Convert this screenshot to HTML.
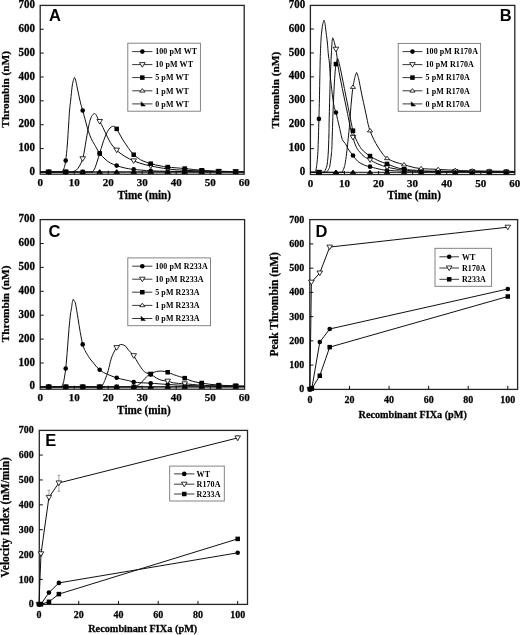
<!DOCTYPE html><html><head><meta charset="utf-8"><style>html,body{margin:0;padding:0;background:#fff;overflow:hidden}svg{display:block}</style></head><body>
<svg width="520" height="635" viewBox="0 0 520 635">
<defs><filter id="bl" filterUnits="userSpaceOnUse" x="0" y="0" width="520" height="635"><feGaussianBlur stdDeviation="0.3"/></filter></defs>
<rect width="520" height="635" fill="#fff"/>
<g filter="url(#bl)">
<rect x="40.2" y="5.4" width="204" height="168.8" fill="none" stroke="#262626" stroke-width="1.3"/>
<text x="0" y="0" font-size="11" text-anchor="end" style="font-family:'Liberation Serif',serif;font-weight:bold" transform="translate(34.9,175) scale(1,1.06)" stroke="#000" stroke-width="0.25" >0</text>
<line x1="40.2" y1="148.58" x2="43.7" y2="148.58" stroke="#111" stroke-width="1.0"/>
<text x="0" y="0" font-size="11" text-anchor="end" style="font-family:'Liberation Serif',serif;font-weight:bold" transform="translate(34.9,151.13) scale(1,1.06)" stroke="#000" stroke-width="0.25" >100</text>
<line x1="40.2" y1="124.71" x2="43.7" y2="124.71" stroke="#111" stroke-width="1.0"/>
<text x="0" y="0" font-size="11" text-anchor="end" style="font-family:'Liberation Serif',serif;font-weight:bold" transform="translate(34.9,127.26) scale(1,1.06)" stroke="#000" stroke-width="0.25" >200</text>
<line x1="40.2" y1="100.84" x2="43.7" y2="100.84" stroke="#111" stroke-width="1.0"/>
<text x="0" y="0" font-size="11" text-anchor="end" style="font-family:'Liberation Serif',serif;font-weight:bold" transform="translate(34.9,103.39) scale(1,1.06)" stroke="#000" stroke-width="0.25" >300</text>
<line x1="40.2" y1="76.97" x2="43.7" y2="76.97" stroke="#111" stroke-width="1.0"/>
<text x="0" y="0" font-size="11" text-anchor="end" style="font-family:'Liberation Serif',serif;font-weight:bold" transform="translate(34.9,79.52) scale(1,1.06)" stroke="#000" stroke-width="0.25" >400</text>
<line x1="40.2" y1="53.1" x2="43.7" y2="53.1" stroke="#111" stroke-width="1.0"/>
<text x="0" y="0" font-size="11" text-anchor="end" style="font-family:'Liberation Serif',serif;font-weight:bold" transform="translate(34.9,55.65) scale(1,1.06)" stroke="#000" stroke-width="0.25" >500</text>
<line x1="40.2" y1="29.23" x2="43.7" y2="29.23" stroke="#111" stroke-width="1.0"/>
<text x="0" y="0" font-size="11" text-anchor="end" style="font-family:'Liberation Serif',serif;font-weight:bold" transform="translate(34.9,31.78) scale(1,1.06)" stroke="#000" stroke-width="0.25" >600</text>
<text x="0" y="0" font-size="11" text-anchor="end" style="font-family:'Liberation Serif',serif;font-weight:bold" transform="translate(34.9,7.91) scale(1,1.06)" stroke="#000" stroke-width="0.25" >700</text>
<text x="0" y="0" font-size="11" text-anchor="middle" style="font-family:'Liberation Serif',serif;font-weight:bold" transform="translate(40.2,186.45) scale(1,1.0)" stroke="#000" stroke-width="0.25" >0</text>
<line x1="74.2" y1="174.2" x2="74.2" y2="170.7" stroke="#111" stroke-width="1.0"/>
<text x="0" y="0" font-size="11" text-anchor="middle" style="font-family:'Liberation Serif',serif;font-weight:bold" transform="translate(74.2,186.45) scale(1,1.0)" stroke="#000" stroke-width="0.25" >10</text>
<line x1="108.2" y1="174.2" x2="108.2" y2="170.7" stroke="#111" stroke-width="1.0"/>
<text x="0" y="0" font-size="11" text-anchor="middle" style="font-family:'Liberation Serif',serif;font-weight:bold" transform="translate(108.2,186.45) scale(1,1.0)" stroke="#000" stroke-width="0.25" >20</text>
<line x1="142.2" y1="174.2" x2="142.2" y2="170.7" stroke="#111" stroke-width="1.0"/>
<text x="0" y="0" font-size="11" text-anchor="middle" style="font-family:'Liberation Serif',serif;font-weight:bold" transform="translate(142.2,186.45) scale(1,1.0)" stroke="#000" stroke-width="0.25" >30</text>
<line x1="176.2" y1="174.2" x2="176.2" y2="170.7" stroke="#111" stroke-width="1.0"/>
<text x="0" y="0" font-size="11" text-anchor="middle" style="font-family:'Liberation Serif',serif;font-weight:bold" transform="translate(176.2,186.45) scale(1,1.0)" stroke="#000" stroke-width="0.25" >40</text>
<line x1="210.2" y1="174.2" x2="210.2" y2="170.7" stroke="#111" stroke-width="1.0"/>
<text x="0" y="0" font-size="11" text-anchor="middle" style="font-family:'Liberation Serif',serif;font-weight:bold" transform="translate(210.2,186.45) scale(1,1.0)" stroke="#000" stroke-width="0.25" >50</text>
<text x="0" y="0" font-size="11" text-anchor="middle" style="font-family:'Liberation Serif',serif;font-weight:bold" transform="translate(244.2,186.45) scale(1,1.0)" stroke="#000" stroke-width="0.25" >60</text>
<rect x="310.4" y="5.4" width="204.4" height="169.1" fill="none" stroke="#262626" stroke-width="1.3"/>
<text x="0" y="0" font-size="11" text-anchor="end" style="font-family:'Liberation Serif',serif;font-weight:bold" transform="translate(305.2,175.1) scale(1,1.06)" stroke="#000" stroke-width="0.25" >0</text>
<line x1="310.4" y1="148.63" x2="313.9" y2="148.63" stroke="#111" stroke-width="1.0"/>
<text x="0" y="0" font-size="11" text-anchor="end" style="font-family:'Liberation Serif',serif;font-weight:bold" transform="translate(305.2,151.18) scale(1,1.06)" stroke="#000" stroke-width="0.25" >100</text>
<line x1="310.4" y1="124.71" x2="313.9" y2="124.71" stroke="#111" stroke-width="1.0"/>
<text x="0" y="0" font-size="11" text-anchor="end" style="font-family:'Liberation Serif',serif;font-weight:bold" transform="translate(305.2,127.26) scale(1,1.06)" stroke="#000" stroke-width="0.25" >200</text>
<line x1="310.4" y1="100.79" x2="313.9" y2="100.79" stroke="#111" stroke-width="1.0"/>
<text x="0" y="0" font-size="11" text-anchor="end" style="font-family:'Liberation Serif',serif;font-weight:bold" transform="translate(305.2,103.34) scale(1,1.06)" stroke="#000" stroke-width="0.25" >300</text>
<line x1="310.4" y1="76.87" x2="313.9" y2="76.87" stroke="#111" stroke-width="1.0"/>
<text x="0" y="0" font-size="11" text-anchor="end" style="font-family:'Liberation Serif',serif;font-weight:bold" transform="translate(305.2,79.42) scale(1,1.06)" stroke="#000" stroke-width="0.25" >400</text>
<line x1="310.4" y1="52.95" x2="313.9" y2="52.95" stroke="#111" stroke-width="1.0"/>
<text x="0" y="0" font-size="11" text-anchor="end" style="font-family:'Liberation Serif',serif;font-weight:bold" transform="translate(305.2,55.5) scale(1,1.06)" stroke="#000" stroke-width="0.25" >500</text>
<line x1="310.4" y1="29.03" x2="313.9" y2="29.03" stroke="#111" stroke-width="1.0"/>
<text x="0" y="0" font-size="11" text-anchor="end" style="font-family:'Liberation Serif',serif;font-weight:bold" transform="translate(305.2,31.58) scale(1,1.06)" stroke="#000" stroke-width="0.25" >600</text>
<text x="0" y="0" font-size="11" text-anchor="end" style="font-family:'Liberation Serif',serif;font-weight:bold" transform="translate(305.2,7.66) scale(1,1.06)" stroke="#000" stroke-width="0.25" >700</text>
<text x="0" y="0" font-size="11" text-anchor="middle" style="font-family:'Liberation Serif',serif;font-weight:bold" transform="translate(310.4,186.75) scale(1,1.0)" stroke="#000" stroke-width="0.25" >0</text>
<line x1="344.47" y1="174.5" x2="344.47" y2="171" stroke="#111" stroke-width="1.0"/>
<text x="0" y="0" font-size="11" text-anchor="middle" style="font-family:'Liberation Serif',serif;font-weight:bold" transform="translate(344.47,186.75) scale(1,1.0)" stroke="#000" stroke-width="0.25" >10</text>
<line x1="378.54" y1="174.5" x2="378.54" y2="171" stroke="#111" stroke-width="1.0"/>
<text x="0" y="0" font-size="11" text-anchor="middle" style="font-family:'Liberation Serif',serif;font-weight:bold" transform="translate(378.54,186.75) scale(1,1.0)" stroke="#000" stroke-width="0.25" >20</text>
<line x1="412.61" y1="174.5" x2="412.61" y2="171" stroke="#111" stroke-width="1.0"/>
<text x="0" y="0" font-size="11" text-anchor="middle" style="font-family:'Liberation Serif',serif;font-weight:bold" transform="translate(412.61,186.75) scale(1,1.0)" stroke="#000" stroke-width="0.25" >30</text>
<line x1="446.68" y1="174.5" x2="446.68" y2="171" stroke="#111" stroke-width="1.0"/>
<text x="0" y="0" font-size="11" text-anchor="middle" style="font-family:'Liberation Serif',serif;font-weight:bold" transform="translate(446.68,186.75) scale(1,1.0)" stroke="#000" stroke-width="0.25" >40</text>
<line x1="480.75" y1="174.5" x2="480.75" y2="171" stroke="#111" stroke-width="1.0"/>
<text x="0" y="0" font-size="11" text-anchor="middle" style="font-family:'Liberation Serif',serif;font-weight:bold" transform="translate(480.75,186.75) scale(1,1.0)" stroke="#000" stroke-width="0.25" >50</text>
<text x="0" y="0" font-size="11" text-anchor="middle" style="font-family:'Liberation Serif',serif;font-weight:bold" transform="translate(514.82,186.75) scale(1,1.0)" stroke="#000" stroke-width="0.25" >60</text>
<rect x="40.2" y="219.6" width="204.4" height="169.6" fill="none" stroke="#262626" stroke-width="1.3"/>
<text x="0" y="0" font-size="11" text-anchor="end" style="font-family:'Liberation Serif',serif;font-weight:bold" transform="translate(34.9,389.45) scale(1,1.06)" stroke="#000" stroke-width="0.25" >0</text>
<line x1="40.2" y1="363" x2="43.7" y2="363" stroke="#111" stroke-width="1.0"/>
<text x="0" y="0" font-size="11" text-anchor="end" style="font-family:'Liberation Serif',serif;font-weight:bold" transform="translate(34.9,365.55) scale(1,1.06)" stroke="#000" stroke-width="0.25" >100</text>
<line x1="40.2" y1="339.1" x2="43.7" y2="339.1" stroke="#111" stroke-width="1.0"/>
<text x="0" y="0" font-size="11" text-anchor="end" style="font-family:'Liberation Serif',serif;font-weight:bold" transform="translate(34.9,341.65) scale(1,1.06)" stroke="#000" stroke-width="0.25" >200</text>
<line x1="40.2" y1="315.2" x2="43.7" y2="315.2" stroke="#111" stroke-width="1.0"/>
<text x="0" y="0" font-size="11" text-anchor="end" style="font-family:'Liberation Serif',serif;font-weight:bold" transform="translate(34.9,317.75) scale(1,1.06)" stroke="#000" stroke-width="0.25" >300</text>
<line x1="40.2" y1="291.3" x2="43.7" y2="291.3" stroke="#111" stroke-width="1.0"/>
<text x="0" y="0" font-size="11" text-anchor="end" style="font-family:'Liberation Serif',serif;font-weight:bold" transform="translate(34.9,293.85) scale(1,1.06)" stroke="#000" stroke-width="0.25" >400</text>
<line x1="40.2" y1="267.4" x2="43.7" y2="267.4" stroke="#111" stroke-width="1.0"/>
<text x="0" y="0" font-size="11" text-anchor="end" style="font-family:'Liberation Serif',serif;font-weight:bold" transform="translate(34.9,269.95) scale(1,1.06)" stroke="#000" stroke-width="0.25" >500</text>
<line x1="40.2" y1="243.5" x2="43.7" y2="243.5" stroke="#111" stroke-width="1.0"/>
<text x="0" y="0" font-size="11" text-anchor="end" style="font-family:'Liberation Serif',serif;font-weight:bold" transform="translate(34.9,246.05) scale(1,1.06)" stroke="#000" stroke-width="0.25" >600</text>
<text x="0" y="0" font-size="11" text-anchor="end" style="font-family:'Liberation Serif',serif;font-weight:bold" transform="translate(34.9,222.15) scale(1,1.06)" stroke="#000" stroke-width="0.25" >700</text>
<text x="0" y="0" font-size="11" text-anchor="middle" style="font-family:'Liberation Serif',serif;font-weight:bold" transform="translate(40.2,401.45) scale(1,1.0)" stroke="#000" stroke-width="0.25" >0</text>
<line x1="74.2" y1="389.2" x2="74.2" y2="385.7" stroke="#111" stroke-width="1.0"/>
<text x="0" y="0" font-size="11" text-anchor="middle" style="font-family:'Liberation Serif',serif;font-weight:bold" transform="translate(74.2,401.45) scale(1,1.0)" stroke="#000" stroke-width="0.25" >10</text>
<line x1="108.2" y1="389.2" x2="108.2" y2="385.7" stroke="#111" stroke-width="1.0"/>
<text x="0" y="0" font-size="11" text-anchor="middle" style="font-family:'Liberation Serif',serif;font-weight:bold" transform="translate(108.2,401.45) scale(1,1.0)" stroke="#000" stroke-width="0.25" >20</text>
<line x1="142.2" y1="389.2" x2="142.2" y2="385.7" stroke="#111" stroke-width="1.0"/>
<text x="0" y="0" font-size="11" text-anchor="middle" style="font-family:'Liberation Serif',serif;font-weight:bold" transform="translate(142.2,401.45) scale(1,1.0)" stroke="#000" stroke-width="0.25" >30</text>
<line x1="176.2" y1="389.2" x2="176.2" y2="385.7" stroke="#111" stroke-width="1.0"/>
<text x="0" y="0" font-size="11" text-anchor="middle" style="font-family:'Liberation Serif',serif;font-weight:bold" transform="translate(176.2,401.45) scale(1,1.0)" stroke="#000" stroke-width="0.25" >40</text>
<line x1="210.2" y1="389.2" x2="210.2" y2="385.7" stroke="#111" stroke-width="1.0"/>
<text x="0" y="0" font-size="11" text-anchor="middle" style="font-family:'Liberation Serif',serif;font-weight:bold" transform="translate(210.2,401.45) scale(1,1.0)" stroke="#000" stroke-width="0.25" >50</text>
<text x="0" y="0" font-size="11" text-anchor="middle" style="font-family:'Liberation Serif',serif;font-weight:bold" transform="translate(244.2,401.45) scale(1,1.0)" stroke="#000" stroke-width="0.25" >60</text>
<rect x="309.8" y="219.6" width="207.8" height="169.8" fill="none" stroke="#262626" stroke-width="1.3"/>
<text x="0" y="0" font-size="10" text-anchor="end" style="font-family:'Liberation Serif',serif;font-weight:bold" transform="translate(304.2,392.25) scale(1,1.08)" stroke="#000" stroke-width="0.25" >0</text>
<line x1="309.8" y1="365.07" x2="313.3" y2="365.07" stroke="#111" stroke-width="1.0"/>
<text x="0" y="0" font-size="10" text-anchor="end" style="font-family:'Liberation Serif',serif;font-weight:bold" transform="translate(304.2,368.02) scale(1,1.08)" stroke="#000" stroke-width="0.25" >100</text>
<line x1="309.8" y1="340.84" x2="313.3" y2="340.84" stroke="#111" stroke-width="1.0"/>
<text x="0" y="0" font-size="10" text-anchor="end" style="font-family:'Liberation Serif',serif;font-weight:bold" transform="translate(304.2,343.79) scale(1,1.08)" stroke="#000" stroke-width="0.25" >200</text>
<line x1="309.8" y1="316.61" x2="313.3" y2="316.61" stroke="#111" stroke-width="1.0"/>
<text x="0" y="0" font-size="10" text-anchor="end" style="font-family:'Liberation Serif',serif;font-weight:bold" transform="translate(304.2,319.56) scale(1,1.08)" stroke="#000" stroke-width="0.25" >300</text>
<line x1="309.8" y1="292.38" x2="313.3" y2="292.38" stroke="#111" stroke-width="1.0"/>
<text x="0" y="0" font-size="10" text-anchor="end" style="font-family:'Liberation Serif',serif;font-weight:bold" transform="translate(304.2,295.33) scale(1,1.08)" stroke="#000" stroke-width="0.25" >400</text>
<line x1="309.8" y1="268.15" x2="313.3" y2="268.15" stroke="#111" stroke-width="1.0"/>
<text x="0" y="0" font-size="10" text-anchor="end" style="font-family:'Liberation Serif',serif;font-weight:bold" transform="translate(304.2,271.1) scale(1,1.08)" stroke="#000" stroke-width="0.25" >500</text>
<line x1="309.8" y1="243.92" x2="313.3" y2="243.92" stroke="#111" stroke-width="1.0"/>
<text x="0" y="0" font-size="10" text-anchor="end" style="font-family:'Liberation Serif',serif;font-weight:bold" transform="translate(304.2,246.87) scale(1,1.08)" stroke="#000" stroke-width="0.25" >600</text>
<text x="0" y="0" font-size="10" text-anchor="end" style="font-family:'Liberation Serif',serif;font-weight:bold" transform="translate(304.2,222.64) scale(1,1.08)" stroke="#000" stroke-width="0.25" >700</text>
<text x="0" y="0" font-size="10" text-anchor="middle" style="font-family:'Liberation Serif',serif;font-weight:bold" transform="translate(309.9,402.9) scale(1,1.08)" stroke="#000" stroke-width="0.25" >0</text>
<line x1="349.48" y1="389.4" x2="349.48" y2="385.9" stroke="#111" stroke-width="1.0"/>
<text x="0" y="0" font-size="10" text-anchor="middle" style="font-family:'Liberation Serif',serif;font-weight:bold" transform="translate(349.48,402.9) scale(1,1.08)" stroke="#000" stroke-width="0.25" >20</text>
<line x1="389.06" y1="389.4" x2="389.06" y2="385.9" stroke="#111" stroke-width="1.0"/>
<text x="0" y="0" font-size="10" text-anchor="middle" style="font-family:'Liberation Serif',serif;font-weight:bold" transform="translate(389.06,402.9) scale(1,1.08)" stroke="#000" stroke-width="0.25" >40</text>
<line x1="428.64" y1="389.4" x2="428.64" y2="385.9" stroke="#111" stroke-width="1.0"/>
<text x="0" y="0" font-size="10" text-anchor="middle" style="font-family:'Liberation Serif',serif;font-weight:bold" transform="translate(428.64,402.9) scale(1,1.08)" stroke="#000" stroke-width="0.25" >60</text>
<line x1="468.22" y1="389.4" x2="468.22" y2="385.9" stroke="#111" stroke-width="1.0"/>
<text x="0" y="0" font-size="10" text-anchor="middle" style="font-family:'Liberation Serif',serif;font-weight:bold" transform="translate(468.22,402.9) scale(1,1.08)" stroke="#000" stroke-width="0.25" >80</text>
<line x1="507.8" y1="389.4" x2="507.8" y2="385.9" stroke="#111" stroke-width="1.0"/>
<text x="0" y="0" font-size="10" text-anchor="middle" style="font-family:'Liberation Serif',serif;font-weight:bold" transform="translate(507.8,402.9) scale(1,1.08)" stroke="#000" stroke-width="0.25" >100</text>
<rect x="39.3" y="430.4" width="208.2" height="174" fill="none" stroke="#262626" stroke-width="1.3"/>
<text x="0" y="0" font-size="10" text-anchor="end" style="font-family:'Liberation Serif',serif;font-weight:bold" transform="translate(33.8,607.4) scale(1,1.08)" stroke="#000" stroke-width="0.25" >0</text>
<line x1="39.3" y1="579.43" x2="42.8" y2="579.43" stroke="#111" stroke-width="1.0"/>
<text x="0" y="0" font-size="10" text-anchor="end" style="font-family:'Liberation Serif',serif;font-weight:bold" transform="translate(33.8,582.53) scale(1,1.08)" stroke="#000" stroke-width="0.25" >100</text>
<line x1="39.3" y1="554.56" x2="42.8" y2="554.56" stroke="#111" stroke-width="1.0"/>
<text x="0" y="0" font-size="10" text-anchor="end" style="font-family:'Liberation Serif',serif;font-weight:bold" transform="translate(33.8,557.66) scale(1,1.08)" stroke="#000" stroke-width="0.25" >200</text>
<line x1="39.3" y1="529.69" x2="42.8" y2="529.69" stroke="#111" stroke-width="1.0"/>
<text x="0" y="0" font-size="10" text-anchor="end" style="font-family:'Liberation Serif',serif;font-weight:bold" transform="translate(33.8,532.79) scale(1,1.08)" stroke="#000" stroke-width="0.25" >300</text>
<line x1="39.3" y1="504.82" x2="42.8" y2="504.82" stroke="#111" stroke-width="1.0"/>
<text x="0" y="0" font-size="10" text-anchor="end" style="font-family:'Liberation Serif',serif;font-weight:bold" transform="translate(33.8,507.92) scale(1,1.08)" stroke="#000" stroke-width="0.25" >400</text>
<line x1="39.3" y1="479.95" x2="42.8" y2="479.95" stroke="#111" stroke-width="1.0"/>
<text x="0" y="0" font-size="10" text-anchor="end" style="font-family:'Liberation Serif',serif;font-weight:bold" transform="translate(33.8,483.05) scale(1,1.08)" stroke="#000" stroke-width="0.25" >500</text>
<line x1="39.3" y1="455.08" x2="42.8" y2="455.08" stroke="#111" stroke-width="1.0"/>
<text x="0" y="0" font-size="10" text-anchor="end" style="font-family:'Liberation Serif',serif;font-weight:bold" transform="translate(33.8,458.18) scale(1,1.08)" stroke="#000" stroke-width="0.25" >600</text>
<text x="0" y="0" font-size="10" text-anchor="end" style="font-family:'Liberation Serif',serif;font-weight:bold" transform="translate(33.8,433.31) scale(1,1.08)" stroke="#000" stroke-width="0.25" >700</text>
<text x="0" y="0" font-size="10" text-anchor="middle" style="font-family:'Liberation Serif',serif;font-weight:bold" transform="translate(39,617.7) scale(1,1.08)" stroke="#000" stroke-width="0.25" >0</text>
<line x1="78.74" y1="604.4" x2="78.74" y2="600.9" stroke="#111" stroke-width="1.0"/>
<text x="0" y="0" font-size="10" text-anchor="middle" style="font-family:'Liberation Serif',serif;font-weight:bold" transform="translate(78.74,617.7) scale(1,1.08)" stroke="#000" stroke-width="0.25" >20</text>
<line x1="118.48" y1="604.4" x2="118.48" y2="600.9" stroke="#111" stroke-width="1.0"/>
<text x="0" y="0" font-size="10" text-anchor="middle" style="font-family:'Liberation Serif',serif;font-weight:bold" transform="translate(118.48,617.7) scale(1,1.08)" stroke="#000" stroke-width="0.25" >40</text>
<line x1="158.22" y1="604.4" x2="158.22" y2="600.9" stroke="#111" stroke-width="1.0"/>
<text x="0" y="0" font-size="10" text-anchor="middle" style="font-family:'Liberation Serif',serif;font-weight:bold" transform="translate(158.22,617.7) scale(1,1.08)" stroke="#000" stroke-width="0.25" >60</text>
<line x1="197.96" y1="604.4" x2="197.96" y2="600.9" stroke="#111" stroke-width="1.0"/>
<text x="0" y="0" font-size="10" text-anchor="middle" style="font-family:'Liberation Serif',serif;font-weight:bold" transform="translate(197.96,617.7) scale(1,1.08)" stroke="#000" stroke-width="0.25" >80</text>
<line x1="237.7" y1="604.4" x2="237.7" y2="600.9" stroke="#111" stroke-width="1.0"/>
<text x="0" y="0" font-size="10" text-anchor="middle" style="font-family:'Liberation Serif',serif;font-weight:bold" transform="translate(237.7,617.7) scale(1,1.08)" stroke="#000" stroke-width="0.25" >100</text>
<text x="0" y="0" font-size="11.2" text-anchor="middle" style="font-family:'Liberation Serif',serif;font-weight:bold" transform="translate(144.3,199) scale(1,1.05)" stroke="#000" stroke-width="0.25" >Time (min)</text>
<text x="0" y="0" font-size="11.2" text-anchor="middle" style="font-family:'Liberation Serif',serif;font-weight:bold" transform="translate(414.1,199) scale(1,1.05)" stroke="#000" stroke-width="0.25" >Time (min)</text>
<text x="0" y="0" font-size="11.2" text-anchor="middle" style="font-family:'Liberation Serif',serif;font-weight:bold" transform="translate(143.9,413.6) scale(1,1.05)" stroke="#000" stroke-width="0.25" >Time (min)</text>
<text x="0" y="0" font-size="10.2" text-anchor="middle" style="font-family:'Liberation Serif',serif;font-weight:bold" transform="translate(412.7,417.5) scale(1,1.1)" stroke="#000" stroke-width="0.25" >Recombinant FIXa (pM)</text>
<text x="0" y="0" font-size="10.3" text-anchor="middle" style="font-family:'Liberation Serif',serif;font-weight:bold" transform="translate(142.7,631.5) scale(1,1.1)" stroke="#000" stroke-width="0.25" >Recombinant FIXa (pM)</text>
<text x="0" y="0" font-size="11.3" text-anchor="middle" style="font-family:'Liberation Serif',serif;font-weight:bold" transform="translate(9.2,89.3) rotate(-90) scale(1,1.0)" stroke="#000" stroke-width="0.25">Thrombin (nM)</text>
<text x="0" y="0" font-size="11.3" text-anchor="middle" style="font-family:'Liberation Serif',serif;font-weight:bold" transform="translate(279.4,90.1) rotate(-90) scale(1,1.0)" stroke="#000" stroke-width="0.25">Thrombin (nM)</text>
<text x="0" y="0" font-size="11.3" text-anchor="middle" style="font-family:'Liberation Serif',serif;font-weight:bold" transform="translate(9.2,303.9) rotate(-90) scale(1,1.0)" stroke="#000" stroke-width="0.25">Thrombin (nM)</text>
<text x="0" y="0" font-size="11.45" text-anchor="middle" style="font-family:'Liberation Serif',serif;font-weight:bold" transform="translate(278,304.3) rotate(-90) scale(1,1.0)" stroke="#000" stroke-width="0.25">Peak Thrombin (nM)</text>
<text x="0" y="0" font-size="11.5" text-anchor="middle" style="font-family:'Liberation Serif',serif;font-weight:bold" transform="translate(8.7,517.3) rotate(-90) scale(1,1.0)" stroke="#000" stroke-width="0.25">Velocity Index (nM/min)</text>
<text x="0" y="0" font-size="16.5" text-anchor="start" style="font-family:'Liberation Sans',sans-serif;font-weight:bold" transform="translate(49,20.6) scale(1,1.0)" >A</text>
<text x="0" y="0" font-size="16.5" text-anchor="start" style="font-family:'Liberation Sans',sans-serif;font-weight:bold" transform="translate(499.8,20.6) scale(1,1.0)" >B</text>
<text x="0" y="0" font-size="16.5" text-anchor="start" style="font-family:'Liberation Sans',sans-serif;font-weight:bold" transform="translate(48.6,237.2) scale(1,1.0)" >C</text>
<text x="0" y="0" font-size="16.5" text-anchor="start" style="font-family:'Liberation Sans',sans-serif;font-weight:bold" transform="translate(315.4,237.2) scale(1,1.0)" >D</text>
<text x="0" y="0" font-size="16.5" text-anchor="start" style="font-family:'Liberation Sans',sans-serif;font-weight:bold" transform="translate(45.3,446.2) scale(1,1.0)" >E</text>
<path d="M40.2,172 C43.17,172 54.37,172.05 58,172 C61.63,171.95 60.95,172.45 62,171.7 C63.05,170.95 63.68,169.35 64.3,167.5 C64.92,165.65 65.2,164.35 65.7,160.6 C66.2,156.85 66.82,150.93 67.3,145 C67.78,139.07 68.22,130.83 68.6,125 C68.98,119.17 69.25,114.17 69.6,110 C69.95,105.83 70.27,104 70.7,100 C71.13,96 71.72,89.42 72.2,86 C72.68,82.58 73.22,80.95 73.6,79.5 C73.98,78.05 74.35,77.67 74.5,77.3 L74.5,77.3 C74.68,77.75 75.13,78.22 75.6,80 C76.07,81.78 76.67,85 77.3,88 C77.93,91 78.75,95.08 79.4,98 C80.05,100.92 80.63,103.37 81.2,105.5 C81.77,107.63 82.08,108.22 82.8,110.8 C83.52,113.38 84.6,117.68 85.5,121 C86.4,124.32 87.25,127.78 88.2,130.7 C89.15,133.62 90.18,136.25 91.2,138.5 C92.22,140.75 93.33,142.45 94.3,144.2 C95.27,145.95 96.1,147.47 97,149 C97.9,150.53 98.37,151.73 99.7,153.4 C101.03,155.07 103.28,157.43 105,159 C106.72,160.57 108.02,161.68 110,162.8 C111.98,163.92 114.4,164.83 116.9,165.7 C119.4,166.57 122.2,167.38 125,168 C127.8,168.62 129.37,168.93 133.7,169.4 C138.03,169.87 145.28,170.48 151,170.8 C156.72,171.12 162.33,171.17 168,171.3 C173.67,171.43 179.38,171.52 185,171.6 C190.62,171.68 196.03,171.75 201.7,171.8 C207.37,171.85 211.95,171.87 219,171.9 C226.05,171.93 239.83,171.98 244,172" stroke="#111" stroke-width="1.0" fill="none" stroke-linejoin="round"/>
<circle cx="48.7" cy="172" r="2.3" fill="#000"/>
<circle cx="65.7" cy="160.6" r="2.3" fill="#000"/>
<circle cx="82.7" cy="110.47" r="2.3" fill="#000"/>
<circle cx="99.7" cy="153.4" r="2.3" fill="#000"/>
<circle cx="116.7" cy="165.62" r="2.3" fill="#000"/>
<circle cx="133.7" cy="169.4" r="2.3" fill="#000"/>
<circle cx="150.7" cy="170.78" r="2.3" fill="#000"/>
<circle cx="167.7" cy="171.29" r="2.3" fill="#000"/>
<circle cx="184.7" cy="171.59" r="2.3" fill="#000"/>
<circle cx="201.7" cy="171.8" r="2.3" fill="#000"/>
<circle cx="218.7" cy="171.9" r="2.3" fill="#000"/>
<circle cx="235.7" cy="171.97" r="2.3" fill="#000"/>
<path d="M40.2,172 C45.17,172 64.47,172.05 70,172 C75.53,171.95 72.32,172.03 73.4,171.7 C74.48,171.37 75.48,170.95 76.5,170 C77.52,169.05 78.48,167.8 79.5,166 C80.52,164.2 81.77,161.87 82.6,159.2 C83.43,156.53 83.85,153.53 84.5,150 C85.15,146.47 85.83,141.83 86.5,138 C87.17,134.17 87.83,130.17 88.5,127 C89.17,123.83 89.83,121 90.5,119 C91.17,117 91.82,115.92 92.5,115 C93.18,114.08 93.97,113.47 94.6,113.5 C95.23,113.53 95.75,114.35 96.3,115.2 C96.85,116.05 97.33,117.55 97.9,118.6 C98.47,119.65 98.85,120.02 99.7,121.5 C100.55,122.98 101.95,125.42 103,127.5 C104.05,129.58 105,131.92 106,134 C107,136.08 108,138.17 109,140 C110,141.83 110.58,143.17 112,145 C113.42,146.83 115.33,149.08 117.5,151 C119.67,152.92 122.25,154.83 125,156.5 C127.75,158.17 131.17,159.78 134,161 C136.83,162.22 139.17,162.97 142,163.8 C144.83,164.63 146.67,165.13 151,166 C155.33,166.87 162.33,168.28 168,169 C173.67,169.72 179.38,169.97 185,170.3 C190.62,170.63 196.03,170.82 201.7,171 C207.37,171.18 211.95,171.27 219,171.4 C226.05,171.53 239.83,171.73 244,171.8" stroke="#111" stroke-width="1.0" fill="none" stroke-linejoin="round"/>
<path d="M45.9,170 L51.5,170 L48.7,174.6 Z" fill="#fff" stroke="#000" stroke-width="0.8" stroke-linejoin="miter"/>
<path d="M62.9,170 L68.5,170 L65.7,174.6 Z" fill="#fff" stroke="#000" stroke-width="0.8" stroke-linejoin="miter"/>
<path d="M79.9,156.72 L85.5,156.72 L82.7,161.32 Z" fill="#fff" stroke="#000" stroke-width="0.8" stroke-linejoin="miter"/>
<path d="M96.9,119.5 L102.5,119.5 L99.7,124.1 Z" fill="#fff" stroke="#000" stroke-width="0.8" stroke-linejoin="miter"/>
<path d="M113.9,148.13 L119.5,148.13 L116.7,152.73 Z" fill="#fff" stroke="#000" stroke-width="0.8" stroke-linejoin="miter"/>
<path d="M130.9,158.85 L136.5,158.85 L133.7,163.45 Z" fill="#fff" stroke="#000" stroke-width="0.8" stroke-linejoin="miter"/>
<path d="M147.9,163.93 L153.5,163.93 L150.7,168.53 Z" fill="#fff" stroke="#000" stroke-width="0.8" stroke-linejoin="miter"/>
<path d="M164.9,166.95 L170.5,166.95 L167.7,171.55 Z" fill="#fff" stroke="#000" stroke-width="0.8" stroke-linejoin="miter"/>
<path d="M181.9,168.28 L187.5,168.28 L184.7,172.88 Z" fill="#fff" stroke="#000" stroke-width="0.8" stroke-linejoin="miter"/>
<path d="M198.9,169 L204.5,169 L201.7,173.6 Z" fill="#fff" stroke="#000" stroke-width="0.8" stroke-linejoin="miter"/>
<path d="M215.9,169.39 L221.5,169.39 L218.7,173.99 Z" fill="#fff" stroke="#000" stroke-width="0.8" stroke-linejoin="miter"/>
<path d="M232.9,169.67 L238.5,169.67 L235.7,174.27 Z" fill="#fff" stroke="#000" stroke-width="0.8" stroke-linejoin="miter"/>
<path d="M40.2,172 C48.17,172 79.38,172.05 88,172 C96.62,171.95 90.82,172.2 91.9,171.7 C92.98,171.2 93.65,170.62 94.5,169 C95.35,167.38 96.13,164.6 97,162 C97.87,159.4 98.78,156.4 99.7,153.4 C100.62,150.4 101.62,146.73 102.5,144 C103.38,141.27 104.17,139.08 105,137 C105.83,134.92 106.67,133 107.5,131.5 C108.33,130 109.17,128.85 110,128 C110.83,127.15 111.75,126.63 112.5,126.4 C113.25,126.17 113.8,126.18 114.5,126.6 C115.2,127.02 115.87,127.67 116.7,128.9 C117.53,130.13 118.45,132.15 119.5,134 C120.55,135.85 121.75,138 123,140 C124.25,142 125.75,144.17 127,146 C128.25,147.83 129.38,149.55 130.5,151 C131.62,152.45 132.45,153.53 133.7,154.7 C134.95,155.87 136.62,157.03 138,158 C139.38,158.97 139.83,159.53 142,160.5 C144.17,161.47 148,162.92 151,163.8 C154,164.68 157.18,165.25 160,165.8 C162.82,166.35 163.73,166.63 167.9,167.1 C172.07,167.57 179.37,168.07 185,168.6 C190.63,169.13 196.03,169.87 201.7,170.3 C207.37,170.73 211.95,170.95 219,171.2 C226.05,171.45 239.83,171.7 244,171.8" stroke="#111" stroke-width="1.0" fill="none" stroke-linejoin="round"/>
<rect x="46.45" y="169.75" width="4.5" height="4.5" fill="#000"/>
<rect x="63.45" y="169.75" width="4.5" height="4.5" fill="#000"/>
<rect x="80.45" y="169.75" width="4.5" height="4.5" fill="#000"/>
<rect x="97.45" y="151.15" width="4.5" height="4.5" fill="#000"/>
<rect x="114.45" y="126.65" width="4.5" height="4.5" fill="#000"/>
<rect x="131.45" y="152.45" width="4.5" height="4.5" fill="#000"/>
<rect x="148.45" y="161.44" width="4.5" height="4.5" fill="#000"/>
<rect x="165.45" y="164.82" width="4.5" height="4.5" fill="#000"/>
<rect x="182.45" y="166.32" width="4.5" height="4.5" fill="#000"/>
<rect x="199.45" y="168.05" width="4.5" height="4.5" fill="#000"/>
<rect x="216.45" y="168.93" width="4.5" height="4.5" fill="#000"/>
<rect x="233.45" y="169.35" width="4.5" height="4.5" fill="#000"/>
<path d="M40.2,172 C74.17,172 210.03,172 244,172" stroke="#111" stroke-width="1.0" fill="none" stroke-linejoin="round"/>
<path d="M46.1,173.3 L51.3,173.3 L48.7,169.8 Z" fill="#fff" stroke="#000" stroke-width="0.8" stroke-linejoin="miter"/>
<path d="M63.1,173.3 L68.3,173.3 L65.7,169.8 Z" fill="#fff" stroke="#000" stroke-width="0.8" stroke-linejoin="miter"/>
<path d="M80.1,173.3 L85.3,173.3 L82.7,169.8 Z" fill="#fff" stroke="#000" stroke-width="0.8" stroke-linejoin="miter"/>
<path d="M97.1,173.3 L102.3,173.3 L99.7,169.8 Z" fill="#fff" stroke="#000" stroke-width="0.8" stroke-linejoin="miter"/>
<path d="M114.1,173.3 L119.3,173.3 L116.7,169.8 Z" fill="#fff" stroke="#000" stroke-width="0.8" stroke-linejoin="miter"/>
<path d="M131.1,173.3 L136.3,173.3 L133.7,169.8 Z" fill="#fff" stroke="#000" stroke-width="0.8" stroke-linejoin="miter"/>
<path d="M148.1,173.3 L153.3,173.3 L150.7,169.8 Z" fill="#fff" stroke="#000" stroke-width="0.8" stroke-linejoin="miter"/>
<path d="M165.1,173.3 L170.3,173.3 L167.7,169.8 Z" fill="#fff" stroke="#000" stroke-width="0.8" stroke-linejoin="miter"/>
<path d="M182.1,173.3 L187.3,173.3 L184.7,169.8 Z" fill="#fff" stroke="#000" stroke-width="0.8" stroke-linejoin="miter"/>
<path d="M199.1,173.3 L204.3,173.3 L201.7,169.8 Z" fill="#fff" stroke="#000" stroke-width="0.8" stroke-linejoin="miter"/>
<path d="M216.1,173.3 L221.3,173.3 L218.7,169.8 Z" fill="#fff" stroke="#000" stroke-width="0.8" stroke-linejoin="miter"/>
<path d="M233.1,173.3 L238.3,173.3 L235.7,169.8 Z" fill="#fff" stroke="#000" stroke-width="0.8" stroke-linejoin="miter"/>
<path d="M40.2,172 C74.17,172 210.03,172 244,172" stroke="#111" stroke-width="1.0" fill="none" stroke-linejoin="round"/>
<path d="M46.1,173.3 L51.3,173.3 L48.7,169.8 Z" fill="#000" stroke="#000" stroke-width="0.8"/>
<path d="M63.1,173.3 L68.3,173.3 L65.7,169.8 Z" fill="#000" stroke="#000" stroke-width="0.8"/>
<path d="M80.1,173.3 L85.3,173.3 L82.7,169.8 Z" fill="#000" stroke="#000" stroke-width="0.8"/>
<path d="M97.1,173.3 L102.3,173.3 L99.7,169.8 Z" fill="#000" stroke="#000" stroke-width="0.8"/>
<path d="M114.1,173.3 L119.3,173.3 L116.7,169.8 Z" fill="#000" stroke="#000" stroke-width="0.8"/>
<path d="M131.1,173.3 L136.3,173.3 L133.7,169.8 Z" fill="#000" stroke="#000" stroke-width="0.8"/>
<path d="M148.1,173.3 L153.3,173.3 L150.7,169.8 Z" fill="#000" stroke="#000" stroke-width="0.8"/>
<path d="M165.1,173.3 L170.3,173.3 L167.7,169.8 Z" fill="#000" stroke="#000" stroke-width="0.8"/>
<path d="M182.1,173.3 L187.3,173.3 L184.7,169.8 Z" fill="#000" stroke="#000" stroke-width="0.8"/>
<path d="M199.1,173.3 L204.3,173.3 L201.7,169.8 Z" fill="#000" stroke="#000" stroke-width="0.8"/>
<path d="M216.1,173.3 L221.3,173.3 L218.7,169.8 Z" fill="#000" stroke="#000" stroke-width="0.8"/>
<path d="M233.1,173.3 L238.3,173.3 L235.7,169.8 Z" fill="#000" stroke="#000" stroke-width="0.8"/>
<path d="M310.4,172.3 C310.92,172.3 312.77,172.38 313.5,172.3 C314.23,172.22 314.33,172.48 314.8,171.8 C315.27,171.12 315.78,171.57 316.3,168.2 C316.82,164.83 317.47,159.7 317.9,151.6 C318.33,143.5 318.65,128.2 318.9,119.6 C319.15,111 319.18,109.93 319.4,100 C319.62,90.07 319.93,70 320.2,60 C320.47,50 320.72,45 321,40 C321.28,35 321.58,32.75 321.9,30 C322.22,27.25 322.55,25.13 322.9,23.5 C323.25,21.87 323.82,20.75 324,20.2 L324,20.2 C324.17,20.75 324.7,21.87 325,23.5 C325.3,25.13 325.42,26.92 325.8,30 C326.18,33.08 326.87,37.83 327.3,42 C327.73,46.17 328.07,51.67 328.4,55 C328.73,58.33 329,58.67 329.3,62 C329.6,65.33 329.88,71.17 330.2,75 C330.52,78.83 330.62,80.08 331.2,85 C331.78,89.92 332.91,99.92 333.7,104.5 C334.49,109.08 335.3,110 335.95,112.5 C336.6,115 336.98,116.83 337.6,119.5 C338.23,122.17 339.03,125.58 339.7,128.5 C340.37,131.42 341.08,134.98 341.6,137 C342.12,139.02 342.17,139.5 342.8,140.6 C343.43,141.7 344.5,142.2 345.4,143.6 C346.3,145 346.97,147.05 348.2,149 C349.43,150.95 351.22,153.27 352.8,155.3 C354.38,157.33 356.17,159.75 357.7,161.2 C359.23,162.65 360.58,163.23 362,164 C363.42,164.77 364.97,165.38 366.2,165.8 C367.43,166.22 367.43,166 369.4,166.5 C371.37,167 375.12,168.18 378,168.8 C380.88,169.42 382.4,169.78 386.7,170.2 C391,170.62 398.12,171.03 403.8,171.3 C409.48,171.57 402.3,171.65 420.8,171.8 C439.3,171.95 499.13,172.13 514.8,172.2" stroke="#111" stroke-width="1.0" fill="none" stroke-linejoin="round"/>
<circle cx="318.92" cy="118.91" r="2.3" fill="#000"/>
<circle cx="335.95" cy="112.51" r="2.3" fill="#000"/>
<circle cx="352.99" cy="155.53" r="2.3" fill="#000"/>
<circle cx="370.02" cy="166.67" r="2.3" fill="#000"/>
<circle cx="387.06" cy="170.22" r="2.3" fill="#000"/>
<circle cx="404.09" cy="171.31" r="2.3" fill="#000"/>
<circle cx="421.13" cy="171.8" r="2.3" fill="#000"/>
<circle cx="438.16" cy="171.87" r="2.3" fill="#000"/>
<circle cx="455.2" cy="171.95" r="2.3" fill="#000"/>
<circle cx="472.23" cy="172.02" r="2.3" fill="#000"/>
<circle cx="489.27" cy="172.09" r="2.3" fill="#000"/>
<circle cx="506.3" cy="172.16" r="2.3" fill="#000"/>
<path d="M310.4,172.3 C312.42,172.3 320.22,172.37 322.5,172.3 C324.78,172.23 323.55,172.45 324.1,171.9 C324.65,171.35 325.28,170.32 325.8,169 C326.32,167.68 326.78,166.83 327.2,164 C327.62,161.17 328.02,156.83 328.3,152 C328.58,147.17 328.73,141.17 328.9,135 C329.07,128.83 329.08,124.17 329.3,115 C329.52,105.83 329.87,90 330.2,80 C330.53,70 330.98,61.42 331.3,55 C331.62,48.58 331.87,44.37 332.1,41.5 C332.33,38.63 332.6,38.42 332.7,37.8 L332.7,37.8 C332.88,38.25 333.42,39.3 333.8,40.5 C334.18,41.7 334.64,43.55 335,45 C335.36,46.45 335.63,47.37 335.95,49.2 C336.27,51.03 336.61,53.62 336.9,56 C337.19,58.38 337.22,60.17 337.7,63.5 C338.18,66.83 339.03,71.83 339.8,76 C340.57,80.17 341.45,84.33 342.3,88.5 C343.15,92.67 344.03,96.83 344.9,101 C345.77,105.17 346.65,109.33 347.5,113.5 C348.35,117.67 349.37,122.95 350,126 C350.63,129.05 350.83,130 351.3,131.8 C351.77,133.6 352.05,134.43 352.8,136.8 C353.55,139.17 354.67,143.48 355.8,146 C356.93,148.52 358.18,150.13 359.6,151.9 C361.02,153.67 362.67,155.33 364.3,156.6 C365.93,157.87 367.12,158.27 369.4,159.5 C371.68,160.73 375.12,162.75 378,164 C380.88,165.25 383.87,166.2 386.7,167 C389.53,167.8 392.15,168.27 395,168.8 C397.85,169.33 399.5,169.8 403.8,170.2 C408.1,170.6 415.15,170.97 420.8,171.2 C426.45,171.43 422.03,171.45 437.7,171.6 C453.37,171.75 501.95,172.02 514.8,172.1" stroke="#111" stroke-width="1.0" fill="none" stroke-linejoin="round"/>
<path d="M316.12,170.3 L321.72,170.3 L318.92,174.9 Z" fill="#fff" stroke="#000" stroke-width="0.8" stroke-linejoin="miter"/>
<path d="M333.15,47.22 L338.75,47.22 L335.95,51.82 Z" fill="#fff" stroke="#000" stroke-width="0.8" stroke-linejoin="miter"/>
<path d="M350.19,135.37 L355.79,135.37 L352.99,139.97 Z" fill="#fff" stroke="#000" stroke-width="0.8" stroke-linejoin="miter"/>
<path d="M367.22,157.83 L372.82,157.83 L370.02,162.43 Z" fill="#fff" stroke="#000" stroke-width="0.8" stroke-linejoin="miter"/>
<path d="M384.26,165.08 L389.86,165.08 L387.06,169.68 Z" fill="#fff" stroke="#000" stroke-width="0.8" stroke-linejoin="miter"/>
<path d="M401.29,168.22 L406.89,168.22 L404.09,172.82 Z" fill="#fff" stroke="#000" stroke-width="0.8" stroke-linejoin="miter"/>
<path d="M418.33,169.21 L423.93,169.21 L421.13,173.81 Z" fill="#fff" stroke="#000" stroke-width="0.8" stroke-linejoin="miter"/>
<path d="M435.36,169.6 L440.96,169.6 L438.16,174.2 Z" fill="#fff" stroke="#000" stroke-width="0.8" stroke-linejoin="miter"/>
<path d="M452.4,169.71 L458,169.71 L455.2,174.31 Z" fill="#fff" stroke="#000" stroke-width="0.8" stroke-linejoin="miter"/>
<path d="M469.43,169.82 L475.03,169.82 L472.23,174.42 Z" fill="#fff" stroke="#000" stroke-width="0.8" stroke-linejoin="miter"/>
<path d="M486.47,169.93 L492.07,169.93 L489.27,174.53 Z" fill="#fff" stroke="#000" stroke-width="0.8" stroke-linejoin="miter"/>
<path d="M503.5,170.04 L509.1,170.04 L506.3,174.64 Z" fill="#fff" stroke="#000" stroke-width="0.8" stroke-linejoin="miter"/>
<path d="M310.4,172.3 C312.83,172.3 322.28,172.37 325,172.3 C327.72,172.23 326.12,172.37 326.7,171.9 C327.28,171.43 327.98,170.47 328.5,169.5 C329.02,168.53 329.33,168.52 329.8,166.1 C330.27,163.68 330.95,158.28 331.3,155 C331.65,151.72 331.68,151.4 331.9,146.4 C332.12,141.4 332.4,131.07 332.6,125 C332.8,118.93 332.87,115.83 333.1,110 C333.33,104.17 333.7,95.83 334,90 C334.3,84.17 334.57,79.32 334.9,75 C335.22,70.68 335.6,66.6 335.95,64.1 C336.3,61.6 336.71,60.92 337,60 C337.29,59.08 337.58,58.83 337.7,58.6 L337.7,58.6 C337.85,59 338.28,59.93 338.6,61 C338.92,62.07 339.05,62.5 339.6,65 C340.15,67.5 341.1,72.08 341.9,76 C342.7,79.92 343.57,84.33 344.4,88.5 C345.23,92.67 346.07,96.83 346.9,101 C347.73,105.17 348.6,109.5 349.4,113.5 C350.2,117.5 351.13,122.23 351.7,125 C352.27,127.77 352.27,128.13 352.8,130.1 C353.33,132.07 353.77,134.12 354.9,136.8 C356.03,139.48 358.18,143.83 359.6,146.2 C361.02,148.57 361.77,149.42 363.4,151 C365.03,152.58 366.97,154.12 369.4,155.7 C371.83,157.28 375.12,159.15 378,160.5 C380.88,161.85 383.87,162.72 386.7,163.8 C389.53,164.88 392.15,166.1 395,167 C397.85,167.9 399.5,168.6 403.8,169.2 C408.1,169.8 415.15,170.27 420.8,170.6 C426.45,170.93 422.03,170.97 437.7,171.2 C453.37,171.43 501.95,171.87 514.8,172" stroke="#111" stroke-width="1.0" fill="none" stroke-linejoin="round"/>
<rect x="316.67" y="170.05" width="4.5" height="4.5" fill="#000"/>
<rect x="333.7" y="61.84" width="4.5" height="4.5" fill="#000"/>
<rect x="350.74" y="128.45" width="4.5" height="4.5" fill="#000"/>
<rect x="367.77" y="153.8" width="4.5" height="4.5" fill="#000"/>
<rect x="384.81" y="161.69" width="4.5" height="4.5" fill="#000"/>
<rect x="401.84" y="166.97" width="4.5" height="4.5" fill="#000"/>
<rect x="418.88" y="168.36" width="4.5" height="4.5" fill="#000"/>
<rect x="435.91" y="168.95" width="4.5" height="4.5" fill="#000"/>
<rect x="452.95" y="169.13" width="4.5" height="4.5" fill="#000"/>
<rect x="469.98" y="169.31" width="4.5" height="4.5" fill="#000"/>
<rect x="487.02" y="169.49" width="4.5" height="4.5" fill="#000"/>
<rect x="504.05" y="169.66" width="4.5" height="4.5" fill="#000"/>
<path d="M310.4,172.3 C315.5,172.3 335.7,172.37 341,172.3 C346.3,172.23 341.7,172.62 342.2,171.9 C342.7,171.18 343.47,169.6 344,168 C344.53,166.4 344.9,165.3 345.4,162.3 C345.9,159.3 346.53,153.93 347,150 C347.47,146.07 347.75,143.03 348.2,138.7 C348.65,134.37 349.32,128.45 349.7,124 C350.08,119.55 350.17,116.33 350.5,112 C350.83,107.67 351.28,102.17 351.7,98 C352.12,93.83 352.52,90.25 353,87 C353.48,83.75 354.17,80.5 354.6,78.5 C355.03,76.5 355.27,76 355.6,75 C355.93,74 356.43,72.92 356.6,72.5 L356.6,72.5 C356.77,72.92 357.25,73.93 357.6,75 C357.95,76.07 358.22,76.73 358.7,78.9 C359.18,81.07 359.87,84.82 360.5,88 C361.13,91.18 361.83,94.83 362.5,98 C363.17,101.17 363.85,104 364.5,107 C365.15,110 365.78,113.08 366.4,116 C367.02,118.92 367.6,122.07 368.2,124.5 C368.8,126.93 369.07,128.08 370,130.6 C370.93,133.12 372.47,136.87 373.8,139.6 C375.13,142.33 376.63,144.77 378,147 C379.37,149.23 380.55,151.13 382,153 C383.45,154.87 384.53,156.7 386.7,158.2 C388.87,159.7 392.15,160.93 395,162 C397.85,163.07 400.97,163.77 403.8,164.6 C406.63,165.43 409.17,166.35 412,167 C414.83,167.65 416.52,168.1 420.8,168.5 C425.08,168.9 432,169.1 437.7,169.4 C443.4,169.7 449.28,170.07 455,170.3 C460.72,170.53 462.03,170.62 472,170.8 C481.97,170.98 507.67,171.3 514.8,171.4" stroke="#111" stroke-width="1.0" fill="none" stroke-linejoin="round"/>
<path d="M316.32,173.6 L321.52,173.6 L318.92,170.1 Z" fill="#fff" stroke="#000" stroke-width="0.8" stroke-linejoin="miter"/>
<path d="M333.35,173.6 L338.55,173.6 L335.95,170.1 Z" fill="#fff" stroke="#000" stroke-width="0.8" stroke-linejoin="miter"/>
<path d="M350.39,88.41 L355.59,88.41 L352.99,84.91 Z" fill="#fff" stroke="#000" stroke-width="0.8" stroke-linejoin="miter"/>
<path d="M367.42,131.95 L372.62,131.95 L370.02,128.45 Z" fill="#fff" stroke="#000" stroke-width="0.8" stroke-linejoin="miter"/>
<path d="M384.46,159.66 L389.66,159.66 L387.06,156.16 Z" fill="#fff" stroke="#000" stroke-width="0.8" stroke-linejoin="miter"/>
<path d="M401.49,165.99 L406.69,165.99 L404.09,162.49 Z" fill="#fff" stroke="#000" stroke-width="0.8" stroke-linejoin="miter"/>
<path d="M418.53,169.82 L423.73,169.82 L421.13,166.32 Z" fill="#fff" stroke="#000" stroke-width="0.8" stroke-linejoin="miter"/>
<path d="M435.56,170.72 L440.76,170.72 L438.16,167.22 Z" fill="#fff" stroke="#000" stroke-width="0.8" stroke-linejoin="miter"/>
<path d="M452.6,171.61 L457.8,171.61 L455.2,168.11 Z" fill="#fff" stroke="#000" stroke-width="0.8" stroke-linejoin="miter"/>
<path d="M469.63,172.1 L474.83,172.1 L472.23,168.6 Z" fill="#fff" stroke="#000" stroke-width="0.8" stroke-linejoin="miter"/>
<path d="M486.67,172.34 L491.87,172.34 L489.27,168.84 Z" fill="#fff" stroke="#000" stroke-width="0.8" stroke-linejoin="miter"/>
<path d="M503.7,172.58 L508.9,172.58 L506.3,169.08 Z" fill="#fff" stroke="#000" stroke-width="0.8" stroke-linejoin="miter"/>
<path d="M310.4,172.3 C344.47,172.3 480.73,172.3 514.8,172.3" stroke="#111" stroke-width="1.0" fill="none" stroke-linejoin="round"/>
<path d="M316.32,173.6 L321.52,173.6 L318.92,170.1 Z" fill="#000" stroke="#000" stroke-width="0.8"/>
<path d="M333.35,173.6 L338.55,173.6 L335.95,170.1 Z" fill="#000" stroke="#000" stroke-width="0.8"/>
<path d="M350.39,173.6 L355.59,173.6 L352.99,170.1 Z" fill="#000" stroke="#000" stroke-width="0.8"/>
<path d="M367.42,173.6 L372.62,173.6 L370.02,170.1 Z" fill="#000" stroke="#000" stroke-width="0.8"/>
<path d="M384.46,173.6 L389.66,173.6 L387.06,170.1 Z" fill="#000" stroke="#000" stroke-width="0.8"/>
<path d="M401.49,173.6 L406.69,173.6 L404.09,170.1 Z" fill="#000" stroke="#000" stroke-width="0.8"/>
<path d="M418.53,173.6 L423.73,173.6 L421.13,170.1 Z" fill="#000" stroke="#000" stroke-width="0.8"/>
<path d="M435.56,173.6 L440.76,173.6 L438.16,170.1 Z" fill="#000" stroke="#000" stroke-width="0.8"/>
<path d="M452.6,173.6 L457.8,173.6 L455.2,170.1 Z" fill="#000" stroke="#000" stroke-width="0.8"/>
<path d="M469.63,173.6 L474.83,173.6 L472.23,170.1 Z" fill="#000" stroke="#000" stroke-width="0.8"/>
<path d="M486.67,173.6 L491.87,173.6 L489.27,170.1 Z" fill="#000" stroke="#000" stroke-width="0.8"/>
<path d="M503.7,173.6 L508.9,173.6 L506.3,170.1 Z" fill="#000" stroke="#000" stroke-width="0.8"/>
<path d="M40.2,386.9 C43.42,386.9 55.97,386.98 59.5,386.9 C63.03,386.82 60.77,387.05 61.4,386.4 C62.03,385.75 62.75,384.73 63.3,383 C63.85,381.27 64.28,378.53 64.7,376 C65.12,373.47 65.47,370.8 65.8,367.8 C66.13,364.8 66.4,361.5 66.7,358 C67,354.5 67.3,350.63 67.6,346.8 C67.9,342.97 68.18,338.95 68.5,335 C68.82,331.05 69.17,326.6 69.5,323.1 C69.83,319.6 70.18,316.37 70.5,314 C70.82,311.63 71.1,310.82 71.4,308.9 C71.7,306.98 72,304.1 72.3,302.5 C72.6,300.9 73.05,299.83 73.2,299.3 L73.2,299.3 C73.38,299.58 73.9,300.18 74.3,301 C74.7,301.82 74.98,301.3 75.6,304.2 C76.22,307.1 77.22,313.67 78,318.4 C78.78,323.13 79.52,328.27 80.3,332.6 C81.08,336.93 81.92,341.42 82.7,344.4 C83.48,347.38 84.27,348.87 85,350.5 C85.73,352.13 86.27,352.82 87.1,354.2 C87.93,355.58 88.93,357.33 90,358.8 C91.07,360.27 92.42,361.67 93.5,363 C94.58,364.33 95.43,365.65 96.5,366.8 C97.57,367.95 98.73,368.95 99.9,369.9 C101.07,370.85 102.2,371.75 103.5,372.5 C104.8,373.25 106.28,373.78 107.7,374.4 C109.12,375.02 110.48,375.63 112,376.2 C113.52,376.77 114.8,377.22 116.8,377.8 C118.8,378.38 122,379.22 124,379.7 C126,380.18 127.18,380.3 128.8,380.7 C130.42,381.1 131.5,381.75 133.7,382.1 C135.9,382.45 139.15,382.62 142,382.8 C144.85,382.98 146.48,382.92 150.8,383.2 C155.12,383.48 162.27,384.13 167.9,384.5 C173.53,384.87 178.97,385.17 184.6,385.4 C190.23,385.63 196,385.77 201.7,385.9 C207.4,386.03 211.65,386.1 218.8,386.2 C225.95,386.3 240.3,386.45 244.6,386.5" stroke="#111" stroke-width="1.0" fill="none" stroke-linejoin="round"/>
<circle cx="48.7" cy="386.9" r="2.3" fill="#000"/>
<circle cx="65.7" cy="368.55" r="2.3" fill="#000"/>
<circle cx="82.7" cy="344.4" r="2.3" fill="#000"/>
<circle cx="99.7" cy="369.72" r="2.3" fill="#000"/>
<circle cx="116.7" cy="377.77" r="2.3" fill="#000"/>
<circle cx="133.7" cy="382.1" r="2.3" fill="#000"/>
<circle cx="150.7" cy="383.2" r="2.3" fill="#000"/>
<circle cx="167.7" cy="384.48" r="2.3" fill="#000"/>
<circle cx="184.7" cy="385.4" r="2.3" fill="#000"/>
<circle cx="201.7" cy="385.9" r="2.3" fill="#000"/>
<circle cx="218.7" cy="386.2" r="2.3" fill="#000"/>
<circle cx="235.7" cy="386.4" r="2.3" fill="#000"/>
<path d="M40.2,386.9 C50.17,386.9 89.72,387.05 100,386.9 C110.28,386.75 101.32,386.6 101.9,386 C102.48,385.4 102.93,384.43 103.5,383.3 C104.07,382.17 104.52,381.32 105.3,379.2 C106.08,377.08 107.23,373.97 108.2,370.6 C109.17,367.23 110.15,362.05 111.1,359 C112.05,355.95 113.03,354.13 113.9,352.3 C114.77,350.47 115.42,349.2 116.3,348 C117.18,346.8 118.23,345.67 119.2,345.1 C120.17,344.53 121.05,344.43 122.1,344.6 C123.15,344.77 124.38,345.13 125.5,346.1 C126.62,347.07 127.43,348.8 128.8,350.4 C130.17,352 132.08,353.47 133.7,355.7 C135.32,357.93 136.9,361.32 138.5,363.8 C140.1,366.28 141.88,369.03 143.3,370.6 C144.72,372.17 145.75,372.6 147,373.2 C148.25,373.8 149.22,373.38 150.8,374.2 C152.38,375.02 154.67,377.08 156.5,378.1 C158.33,379.12 159.9,379.78 161.8,380.3 C163.7,380.82 165.9,380.77 167.9,381.2 C169.9,381.63 171.02,382.47 173.8,382.9 C176.58,383.33 179.95,383.42 184.6,383.8 C189.25,384.18 196,384.85 201.7,385.2 C207.4,385.55 211.65,385.72 218.8,385.9 C225.95,386.08 240.3,386.23 244.6,386.3" stroke="#111" stroke-width="1.0" fill="none" stroke-linejoin="round"/>
<path d="M45.9,384.9 L51.5,384.9 L48.7,389.5 Z" fill="#fff" stroke="#000" stroke-width="0.8" stroke-linejoin="miter"/>
<path d="M62.9,384.9 L68.5,384.9 L65.7,389.5 Z" fill="#fff" stroke="#000" stroke-width="0.8" stroke-linejoin="miter"/>
<path d="M79.9,384.9 L85.5,384.9 L82.7,389.5 Z" fill="#fff" stroke="#000" stroke-width="0.8" stroke-linejoin="miter"/>
<path d="M96.9,384.9 L102.5,384.9 L99.7,389.5 Z" fill="#fff" stroke="#000" stroke-width="0.8" stroke-linejoin="miter"/>
<path d="M113.9,345.6 L119.5,345.6 L116.7,350.2 Z" fill="#fff" stroke="#000" stroke-width="0.8" stroke-linejoin="miter"/>
<path d="M130.9,353.7 L136.5,353.7 L133.7,358.3 Z" fill="#fff" stroke="#000" stroke-width="0.8" stroke-linejoin="miter"/>
<path d="M147.9,372.17 L153.5,372.17 L150.7,376.77 Z" fill="#fff" stroke="#000" stroke-width="0.8" stroke-linejoin="miter"/>
<path d="M164.9,379.17 L170.5,379.17 L167.7,383.77 Z" fill="#fff" stroke="#000" stroke-width="0.8" stroke-linejoin="miter"/>
<path d="M181.9,381.81 L187.5,381.81 L184.7,386.41 Z" fill="#fff" stroke="#000" stroke-width="0.8" stroke-linejoin="miter"/>
<path d="M198.9,383.2 L204.5,383.2 L201.7,387.8 Z" fill="#fff" stroke="#000" stroke-width="0.8" stroke-linejoin="miter"/>
<path d="M215.9,383.9 L221.5,383.9 L218.7,388.5 Z" fill="#fff" stroke="#000" stroke-width="0.8" stroke-linejoin="miter"/>
<path d="M232.9,384.16 L238.5,384.16 L235.7,388.76 Z" fill="#fff" stroke="#000" stroke-width="0.8" stroke-linejoin="miter"/>
<path d="M40.2,386.9 C55.83,386.9 118.02,387.05 134,386.9 C149.98,386.75 135.35,386.35 136.1,386 C136.85,385.65 137.63,385.37 138.5,384.8 C139.37,384.23 140.3,383.57 141.3,382.6 C142.3,381.63 143.37,380.2 144.5,379 C145.63,377.8 147.05,376.2 148.1,375.4 C149.15,374.6 149.9,374.67 150.8,374.2 C151.7,373.73 152.55,373.05 153.5,372.6 C154.45,372.15 155.12,371.75 156.5,371.5 C157.88,371.25 159.9,370.97 161.8,371.1 C163.7,371.23 165.9,371.7 167.9,372.3 C169.9,372.9 171.85,373.98 173.8,374.7 C175.75,375.42 177.8,376.03 179.6,376.6 C181.4,377.17 182.87,377.47 184.6,378.1 C186.33,378.73 188.27,379.77 190,380.4 C191.73,381.03 193.05,381.47 195,381.9 C196.95,382.33 199.2,382.6 201.7,383 C204.2,383.4 207.15,383.95 210,384.3 C212.85,384.65 215.8,384.88 218.8,385.1 C221.8,385.32 225.13,385.48 228,385.6 C230.87,385.72 233.23,385.72 236,385.8 C238.77,385.88 243.17,386.05 244.6,386.1" stroke="#111" stroke-width="1.0" fill="none" stroke-linejoin="round"/>
<rect x="46.45" y="384.65" width="4.5" height="4.5" fill="#000"/>
<rect x="63.45" y="384.65" width="4.5" height="4.5" fill="#000"/>
<rect x="80.45" y="384.65" width="4.5" height="4.5" fill="#000"/>
<rect x="97.45" y="384.65" width="4.5" height="4.5" fill="#000"/>
<rect x="114.45" y="384.65" width="4.5" height="4.5" fill="#000"/>
<rect x="131.45" y="384.65" width="4.5" height="4.5" fill="#000"/>
<rect x="148.45" y="371.99" width="4.5" height="4.5" fill="#000"/>
<rect x="165.45" y="370.01" width="4.5" height="4.5" fill="#000"/>
<rect x="182.45" y="375.89" width="4.5" height="4.5" fill="#000"/>
<rect x="199.45" y="380.75" width="4.5" height="4.5" fill="#000"/>
<rect x="216.45" y="382.84" width="4.5" height="4.5" fill="#000"/>
<rect x="233.45" y="383.54" width="4.5" height="4.5" fill="#000"/>
<path d="M40.2,386.9 C74.27,386.9 210.53,386.9 244.6,386.9" stroke="#111" stroke-width="1.0" fill="none" stroke-linejoin="round"/>
<path d="M46.1,388.2 L51.3,388.2 L48.7,384.7 Z" fill="#fff" stroke="#000" stroke-width="0.8" stroke-linejoin="miter"/>
<path d="M63.1,388.2 L68.3,388.2 L65.7,384.7 Z" fill="#fff" stroke="#000" stroke-width="0.8" stroke-linejoin="miter"/>
<path d="M80.1,388.2 L85.3,388.2 L82.7,384.7 Z" fill="#fff" stroke="#000" stroke-width="0.8" stroke-linejoin="miter"/>
<path d="M97.1,388.2 L102.3,388.2 L99.7,384.7 Z" fill="#fff" stroke="#000" stroke-width="0.8" stroke-linejoin="miter"/>
<path d="M114.1,388.2 L119.3,388.2 L116.7,384.7 Z" fill="#fff" stroke="#000" stroke-width="0.8" stroke-linejoin="miter"/>
<path d="M131.1,388.2 L136.3,388.2 L133.7,384.7 Z" fill="#fff" stroke="#000" stroke-width="0.8" stroke-linejoin="miter"/>
<path d="M148.1,388.2 L153.3,388.2 L150.7,384.7 Z" fill="#fff" stroke="#000" stroke-width="0.8" stroke-linejoin="miter"/>
<path d="M165.1,388.2 L170.3,388.2 L167.7,384.7 Z" fill="#fff" stroke="#000" stroke-width="0.8" stroke-linejoin="miter"/>
<path d="M182.1,388.2 L187.3,388.2 L184.7,384.7 Z" fill="#fff" stroke="#000" stroke-width="0.8" stroke-linejoin="miter"/>
<path d="M199.1,388.2 L204.3,388.2 L201.7,384.7 Z" fill="#fff" stroke="#000" stroke-width="0.8" stroke-linejoin="miter"/>
<path d="M216.1,388.2 L221.3,388.2 L218.7,384.7 Z" fill="#fff" stroke="#000" stroke-width="0.8" stroke-linejoin="miter"/>
<path d="M233.1,388.2 L238.3,388.2 L235.7,384.7 Z" fill="#fff" stroke="#000" stroke-width="0.8" stroke-linejoin="miter"/>
<path d="M40.2,386.9 C74.27,386.9 210.53,386.9 244.6,386.9" stroke="#111" stroke-width="1.0" fill="none" stroke-linejoin="round"/>
<path d="M46.1,388.2 L51.3,388.2 L48.7,384.7 Z" fill="#000" stroke="#000" stroke-width="0.8"/>
<path d="M63.1,388.2 L68.3,388.2 L65.7,384.7 Z" fill="#000" stroke="#000" stroke-width="0.8"/>
<path d="M80.1,388.2 L85.3,388.2 L82.7,384.7 Z" fill="#000" stroke="#000" stroke-width="0.8"/>
<path d="M97.1,388.2 L102.3,388.2 L99.7,384.7 Z" fill="#000" stroke="#000" stroke-width="0.8"/>
<path d="M114.1,388.2 L119.3,388.2 L116.7,384.7 Z" fill="#000" stroke="#000" stroke-width="0.8"/>
<path d="M131.1,388.2 L136.3,388.2 L133.7,384.7 Z" fill="#000" stroke="#000" stroke-width="0.8"/>
<path d="M148.1,388.2 L153.3,388.2 L150.7,384.7 Z" fill="#000" stroke="#000" stroke-width="0.8"/>
<path d="M165.1,388.2 L170.3,388.2 L167.7,384.7 Z" fill="#000" stroke="#000" stroke-width="0.8"/>
<path d="M182.1,388.2 L187.3,388.2 L184.7,384.7 Z" fill="#000" stroke="#000" stroke-width="0.8"/>
<path d="M199.1,388.2 L204.3,388.2 L201.7,384.7 Z" fill="#000" stroke="#000" stroke-width="0.8"/>
<path d="M216.1,388.2 L221.3,388.2 L218.7,384.7 Z" fill="#000" stroke="#000" stroke-width="0.8"/>
<path d="M233.1,388.2 L238.3,388.2 L235.7,384.7 Z" fill="#000" stroke="#000" stroke-width="0.8"/>
<polyline points="309.9,389.3 311.88,388.09 319.79,342.05 329.69,328.97 507.8,288.99" fill="none" stroke="#111" stroke-width="1.0" stroke-linejoin="round"/>
<polyline points="309.9,389.3 311.38,282.2 319.79,273 329.69,247.07 507.8,227.2" fill="none" stroke="#111" stroke-width="1.0" stroke-linejoin="round"/>
<polyline points="309.9,389.3 311.88,388.57 319.79,375.73 329.69,347.14 507.8,296.5" fill="none" stroke="#111" stroke-width="1.0" stroke-linejoin="round"/>
<circle cx="309.9" cy="389.3" r="2.3" fill="#000"/>
<circle cx="311.88" cy="388.09" r="2.3" fill="#000"/>
<circle cx="319.79" cy="342.05" r="2.3" fill="#000"/>
<circle cx="329.69" cy="328.97" r="2.3" fill="#000"/>
<circle cx="507.8" cy="288.99" r="2.3" fill="#000"/>
<path d="M307.1,387.3 L312.7,387.3 L309.9,391.9 Z" fill="#fff" stroke="#000" stroke-width="0.8" stroke-linejoin="miter"/>
<path d="M308.58,280.2 L314.18,280.2 L311.38,284.8 Z" fill="#fff" stroke="#000" stroke-width="0.8" stroke-linejoin="miter"/>
<path d="M316.99,271 L322.59,271 L319.79,275.6 Z" fill="#fff" stroke="#000" stroke-width="0.8" stroke-linejoin="miter"/>
<path d="M326.89,245.07 L332.49,245.07 L329.69,249.67 Z" fill="#fff" stroke="#000" stroke-width="0.8" stroke-linejoin="miter"/>
<path d="M505,225.2 L510.6,225.2 L507.8,229.8 Z" fill="#fff" stroke="#000" stroke-width="0.8" stroke-linejoin="miter"/>
<rect x="307.65" y="387.05" width="4.5" height="4.5" fill="#000"/>
<rect x="309.63" y="386.32" width="4.5" height="4.5" fill="#000"/>
<rect x="317.54" y="373.48" width="4.5" height="4.5" fill="#000"/>
<rect x="327.44" y="344.89" width="4.5" height="4.5" fill="#000"/>
<rect x="505.55" y="294.25" width="4.5" height="4.5" fill="#000"/>
<line x1="58.87" y1="475.4" x2="58.87" y2="491.3" stroke="#999" stroke-width="0.9"/>
<line x1="57.57" y1="475.4" x2="60.17" y2="475.4" stroke="#999" stroke-width="0.9"/>
<line x1="57.57" y1="491.3" x2="60.17" y2="491.3" stroke="#999" stroke-width="0.9"/>
<line x1="48.94" y1="490.2" x2="48.94" y2="500" stroke="#999" stroke-width="0.9"/>
<line x1="47.64" y1="490.2" x2="50.23" y2="490.2" stroke="#999" stroke-width="0.9"/>
<line x1="47.64" y1="500" x2="50.23" y2="500" stroke="#999" stroke-width="0.9"/>
<line x1="40.99" y1="549.5" x2="40.99" y2="556" stroke="#999" stroke-width="0.9"/>
<line x1="39.69" y1="549.5" x2="42.29" y2="549.5" stroke="#999" stroke-width="0.9"/>
<line x1="39.69" y1="556" x2="42.29" y2="556" stroke="#999" stroke-width="0.9"/>
<line x1="237.7" y1="435.8" x2="237.7" y2="440" stroke="#999" stroke-width="0.9"/>
<line x1="236.4" y1="435.8" x2="239" y2="435.8" stroke="#999" stroke-width="0.9"/>
<line x1="236.4" y1="440" x2="239" y2="440" stroke="#999" stroke-width="0.9"/>
<polyline points="39,604.3 40.99,604.05 48.94,592.61 58.87,582.91 237.7,552.82" fill="none" stroke="#111" stroke-width="1.0" stroke-linejoin="round"/>
<polyline points="39,604.3 40.99,553.81 48.94,497.36 58.87,482.93 237.7,437.92" fill="none" stroke="#111" stroke-width="1.0" stroke-linejoin="round"/>
<polyline points="39,604.3 40.99,604.3 48.94,601.81 58.87,594.1 237.7,538.89" fill="none" stroke="#111" stroke-width="1.0" stroke-linejoin="round"/>
<circle cx="39" cy="604.3" r="2.3" fill="#000"/>
<circle cx="40.99" cy="604.05" r="2.3" fill="#000"/>
<circle cx="48.94" cy="592.61" r="2.3" fill="#000"/>
<circle cx="58.87" cy="582.91" r="2.3" fill="#000"/>
<circle cx="237.7" cy="552.82" r="2.3" fill="#000"/>
<path d="M36.2,602.3 L41.8,602.3 L39,606.9 Z" fill="#fff" stroke="#000" stroke-width="0.8" stroke-linejoin="miter"/>
<path d="M38.19,551.81 L43.79,551.81 L40.99,556.41 Z" fill="#fff" stroke="#000" stroke-width="0.8" stroke-linejoin="miter"/>
<path d="M46.14,495.36 L51.73,495.36 L48.94,499.96 Z" fill="#fff" stroke="#000" stroke-width="0.8" stroke-linejoin="miter"/>
<path d="M56.07,480.93 L61.67,480.93 L58.87,485.53 Z" fill="#fff" stroke="#000" stroke-width="0.8" stroke-linejoin="miter"/>
<path d="M234.9,435.92 L240.5,435.92 L237.7,440.52 Z" fill="#fff" stroke="#000" stroke-width="0.8" stroke-linejoin="miter"/>
<rect x="36.75" y="602.05" width="4.5" height="4.5" fill="#000"/>
<rect x="38.74" y="602.05" width="4.5" height="4.5" fill="#000"/>
<rect x="46.69" y="599.56" width="4.5" height="4.5" fill="#000"/>
<rect x="56.62" y="591.85" width="4.5" height="4.5" fill="#000"/>
<rect x="235.45" y="536.64" width="4.5" height="4.5" fill="#000"/>
<rect x="127.8" y="43.2" width="72.6" height="68" fill="#fff" stroke="#777" stroke-width="0.9"/>
<line x1="132.2" y1="51.6" x2="152.4" y2="51.6" stroke="#222" stroke-width="0.9"/>
<circle cx="142.3" cy="51.6" r="2.3" fill="#000"/>
<text x="0" y="0" font-size="8" text-anchor="start" style="font-family:'Liberation Serif',serif;font-weight:bold" transform="translate(155.2,54.4) scale(1,0.94)" letter-spacing="0.09">100 pM WT</text>
<line x1="132.2" y1="64.6" x2="152.4" y2="64.6" stroke="#222" stroke-width="0.9"/>
<path d="M139.5,62.6 L145.1,62.6 L142.3,67.2 Z" fill="#fff" stroke="#000" stroke-width="0.8" stroke-linejoin="miter"/>
<text x="0" y="0" font-size="8" text-anchor="start" style="font-family:'Liberation Serif',serif;font-weight:bold" transform="translate(155.2,67.4) scale(1,0.94)" letter-spacing="0.09">10 pM WT</text>
<line x1="132.2" y1="77.6" x2="152.4" y2="77.6" stroke="#222" stroke-width="0.9"/>
<rect x="140.05" y="75.35" width="4.5" height="4.5" fill="#000"/>
<text x="0" y="0" font-size="8" text-anchor="start" style="font-family:'Liberation Serif',serif;font-weight:bold" transform="translate(155.2,80.4) scale(1,0.94)" letter-spacing="0.09">5 pM WT</text>
<line x1="132.2" y1="90.8" x2="152.4" y2="90.8" stroke="#222" stroke-width="0.9"/>
<path d="M139.7,92.1 L144.9,92.1 L142.3,88.6 Z" fill="#fff" stroke="#000" stroke-width="0.8" stroke-linejoin="miter"/>
<text x="0" y="0" font-size="8" text-anchor="start" style="font-family:'Liberation Serif',serif;font-weight:bold" transform="translate(155.2,93.6) scale(1,0.94)" letter-spacing="0.09">1 pM WT</text>
<line x1="132.2" y1="103.9" x2="152.4" y2="103.9" stroke="#222" stroke-width="0.9"/>
<path d="M141.1,101.7 L141.1,106 L145.4,106 Z" fill="#000" stroke="#000" stroke-width="0.5" stroke-linejoin="miter"/>
<text x="0" y="0" font-size="8" text-anchor="start" style="font-family:'Liberation Serif',serif;font-weight:bold" transform="translate(155.2,106.7) scale(1,0.94)" letter-spacing="0.09">0 pM WT</text>
<rect x="398.2" y="43.4" width="82.4" height="67.9" fill="#fff" stroke="#777" stroke-width="0.9"/>
<line x1="402.5" y1="51.6" x2="422.4" y2="51.6" stroke="#222" stroke-width="0.9"/>
<circle cx="412.45" cy="51.6" r="2.3" fill="#000"/>
<text x="0" y="0" font-size="8" text-anchor="start" style="font-family:'Liberation Serif',serif;font-weight:bold" transform="translate(425.5,54.4) scale(1,0.94)" letter-spacing="0.09">100 pM R170A</text>
<line x1="402.5" y1="64.6" x2="422.4" y2="64.6" stroke="#222" stroke-width="0.9"/>
<path d="M409.65,62.6 L415.25,62.6 L412.45,67.2 Z" fill="#fff" stroke="#000" stroke-width="0.8" stroke-linejoin="miter"/>
<text x="0" y="0" font-size="8" text-anchor="start" style="font-family:'Liberation Serif',serif;font-weight:bold" transform="translate(425.5,67.4) scale(1,0.94)" letter-spacing="0.09">10 pM R170A</text>
<line x1="402.5" y1="77.6" x2="422.4" y2="77.6" stroke="#222" stroke-width="0.9"/>
<rect x="410.2" y="75.35" width="4.5" height="4.5" fill="#000"/>
<text x="0" y="0" font-size="8" text-anchor="start" style="font-family:'Liberation Serif',serif;font-weight:bold" transform="translate(425.5,80.4) scale(1,0.94)" letter-spacing="0.09">5 pM R170A</text>
<line x1="402.5" y1="90.8" x2="422.4" y2="90.8" stroke="#222" stroke-width="0.9"/>
<path d="M409.85,92.1 L415.05,92.1 L412.45,88.6 Z" fill="#fff" stroke="#000" stroke-width="0.8" stroke-linejoin="miter"/>
<text x="0" y="0" font-size="8" text-anchor="start" style="font-family:'Liberation Serif',serif;font-weight:bold" transform="translate(425.5,93.6) scale(1,0.94)" letter-spacing="0.09">1 pM R170A</text>
<line x1="402.5" y1="103.9" x2="422.4" y2="103.9" stroke="#222" stroke-width="0.9"/>
<path d="M411.25,101.7 L411.25,106 L415.55,106 Z" fill="#000" stroke="#000" stroke-width="0.5" stroke-linejoin="miter"/>
<text x="0" y="0" font-size="8" text-anchor="start" style="font-family:'Liberation Serif',serif;font-weight:bold" transform="translate(425.5,106.7) scale(1,0.94)" letter-spacing="0.09">0 pM R170A</text>
<rect x="127.8" y="257.9" width="82.7" height="67.8" fill="#fff" stroke="#777" stroke-width="0.9"/>
<line x1="132.2" y1="266.2" x2="152.4" y2="266.2" stroke="#222" stroke-width="0.9"/>
<circle cx="142.3" cy="266.2" r="2.3" fill="#000"/>
<text x="0" y="0" font-size="8" text-anchor="start" style="font-family:'Liberation Serif',serif;font-weight:bold" transform="translate(155.2,269) scale(1,0.94)" letter-spacing="0.09">100 pM R233A</text>
<line x1="132.2" y1="279.2" x2="152.4" y2="279.2" stroke="#222" stroke-width="0.9"/>
<path d="M139.5,277.2 L145.1,277.2 L142.3,281.8 Z" fill="#fff" stroke="#000" stroke-width="0.8" stroke-linejoin="miter"/>
<text x="0" y="0" font-size="8" text-anchor="start" style="font-family:'Liberation Serif',serif;font-weight:bold" transform="translate(155.2,282) scale(1,0.94)" letter-spacing="0.09">10 pM R233A</text>
<line x1="132.2" y1="292.2" x2="152.4" y2="292.2" stroke="#222" stroke-width="0.9"/>
<rect x="140.05" y="289.95" width="4.5" height="4.5" fill="#000"/>
<text x="0" y="0" font-size="8" text-anchor="start" style="font-family:'Liberation Serif',serif;font-weight:bold" transform="translate(155.2,295) scale(1,0.94)" letter-spacing="0.09">5 pM R233A</text>
<line x1="132.2" y1="305.4" x2="152.4" y2="305.4" stroke="#222" stroke-width="0.9"/>
<path d="M139.7,306.7 L144.9,306.7 L142.3,303.2 Z" fill="#fff" stroke="#000" stroke-width="0.8" stroke-linejoin="miter"/>
<text x="0" y="0" font-size="8" text-anchor="start" style="font-family:'Liberation Serif',serif;font-weight:bold" transform="translate(155.2,308.2) scale(1,0.94)" letter-spacing="0.09">1 pM R233A</text>
<line x1="132.2" y1="318.5" x2="152.4" y2="318.5" stroke="#222" stroke-width="0.9"/>
<path d="M141.1,316.3 L141.1,320.6 L145.4,320.6 Z" fill="#000" stroke="#000" stroke-width="0.5" stroke-linejoin="miter"/>
<text x="0" y="0" font-size="8" text-anchor="start" style="font-family:'Liberation Serif',serif;font-weight:bold" transform="translate(155.2,321.3) scale(1,0.94)" letter-spacing="0.09">0 pM R233A</text>
<rect x="435" y="248.3" width="56.6" height="38" fill="#fff" stroke="#777" stroke-width="0.9"/>
<line x1="439.4" y1="256.8" x2="459" y2="256.8" stroke="#222" stroke-width="0.9"/>
<circle cx="449.2" cy="256.8" r="2.3" fill="#000"/>
<text x="0" y="0" font-size="8" text-anchor="start" style="font-family:'Liberation Serif',serif;font-weight:bold" transform="translate(462,259.6) scale(1,0.94)" letter-spacing="0.09">WT</text>
<line x1="439.4" y1="268" x2="459" y2="268" stroke="#222" stroke-width="0.9"/>
<path d="M446.4,266 L452,266 L449.2,270.6 Z" fill="#fff" stroke="#000" stroke-width="0.8" stroke-linejoin="miter"/>
<text x="0" y="0" font-size="8" text-anchor="start" style="font-family:'Liberation Serif',serif;font-weight:bold" transform="translate(462,270.8) scale(1,0.94)" letter-spacing="0.09">R170A</text>
<line x1="439.4" y1="279.3" x2="459" y2="279.3" stroke="#222" stroke-width="0.9"/>
<rect x="446.95" y="277.05" width="4.5" height="4.5" fill="#000"/>
<text x="0" y="0" font-size="8" text-anchor="start" style="font-family:'Liberation Serif',serif;font-weight:bold" transform="translate(462,282.1) scale(1,0.94)" letter-spacing="0.09">R233A</text>
<rect x="169.7" y="466.1" width="54.6" height="34.9" fill="#fff" stroke="#777" stroke-width="0.9"/>
<line x1="174.1" y1="473.9" x2="194.4" y2="473.9" stroke="#222" stroke-width="0.9"/>
<circle cx="184.25" cy="473.9" r="2.3" fill="#000"/>
<text x="0" y="0" font-size="8" text-anchor="start" style="font-family:'Liberation Serif',serif;font-weight:bold" transform="translate(196.6,476.7) scale(1,0.94)" letter-spacing="0.09">WT</text>
<line x1="174.1" y1="484.2" x2="194.4" y2="484.2" stroke="#222" stroke-width="0.9"/>
<path d="M181.45,482.2 L187.05,482.2 L184.25,486.8 Z" fill="#fff" stroke="#000" stroke-width="0.8" stroke-linejoin="miter"/>
<text x="0" y="0" font-size="8" text-anchor="start" style="font-family:'Liberation Serif',serif;font-weight:bold" transform="translate(196.6,487) scale(1,0.94)" letter-spacing="0.09">R170A</text>
<line x1="174.1" y1="494" x2="194.4" y2="494" stroke="#222" stroke-width="0.9"/>
<rect x="182" y="491.75" width="4.5" height="4.5" fill="#000"/>
<text x="0" y="0" font-size="8" text-anchor="start" style="font-family:'Liberation Serif',serif;font-weight:bold" transform="translate(196.6,496.8) scale(1,0.94)" letter-spacing="0.09">R233A</text>
</g></svg></body></html>
